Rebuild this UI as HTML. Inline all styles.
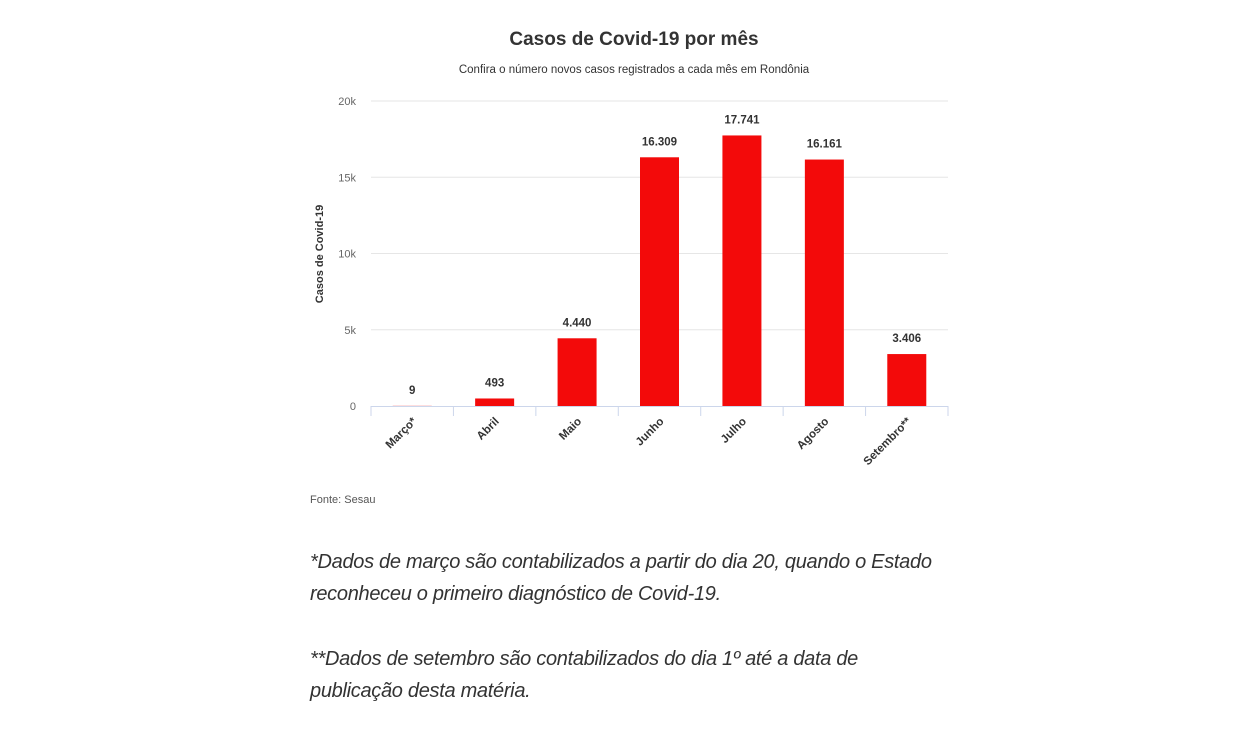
<!DOCTYPE html>
<html><head><meta charset="utf-8"><style>
body{margin:0;background:#fff;width:1239px;height:734px;overflow:hidden;font-family:"Liberation Sans",sans-serif}
.note{position:absolute;left:310px;font-style:italic;font-size:20px;color:#333;line-height:32px;letter-spacing:-0.3px}
</style></head><body>
<svg width="1239" height="520" style="position:absolute;left:0;top:0">
<text x="634" y="45" text-anchor="middle" font-size="19" font-weight="bold" fill="#333">Casos de Covid-19 por mês</text>
<text x="634" y="73" text-anchor="middle" font-size="11.5" fill="#333">Confira o número novos casos registrados a cada mês em Rondônia</text>
<text transform="translate(323,254) rotate(-90)" text-anchor="middle" font-size="11" font-weight="bold" fill="#333">Casos de Covid-19</text>
<g id="grid"></g><g id="bars"></g><g id="xaxis"></g>
<text x="310" y="503" font-size="11" fill="#555">Fonte: Sesau</text>
</svg>
<div class="note" style="top:546px">*Dados de março são contabilizados a partir do dia 20, quando o Estado<br>reconheceu o primeiro diagnóstico de Covid-19.</div>
<div class="note" style="top:643px">**Dados de setembro são contabilizados do dia 1º até a data de<br>publicação desta matéria.</div>
<script>
const categories=["Março*","Abril","Maio","Junho","Julho","Agosto","Setembro**"];
const values=[9,493,4440,16309,17741,16161,3406];
const valueLabels=["9","493","4.440","16.309","17.741","16.161","3.406"];
const yTicks=[0,5000,10000,15000,20000];
const yTickLabels=["0","5k","10k","15k","20k"];
const NS="http://www.w3.org/2000/svg";
const x0=371,x1=948,y0=406,yTop=101,yMax=20000;
const band=(x1-x0)/categories.length;
const y=v=>y0-(v/yMax)*(y0-yTop);
const xc=i=>x0+band*(i+0.5);
function mk(t,a,p){const e=document.createElementNS(NS,t);for(const k in a)e.setAttribute(k,a[k]);p.appendChild(e);return e;}
const grid=document.getElementById('grid'),bars=document.getElementById('bars'),xa=document.getElementById('xaxis');
yTicks.forEach((t,i)=>{
 if(t>0){const l=mk('line',{x1:x0,x2:x1,y1:y(t),y2:y(t),stroke:'#e6e6e6'},grid);
 
 }
 const tx=mk('text',{x:356,y:y(t)+4,'text-anchor':'end','font-size':11,fill:'#666'},grid);tx.textContent=yTickLabels[i];
 
 
});
const ax=mk('line',{x1:x0,x2:x1,y1:y0+0.5,y2:y0+0.5,stroke:'#ccd6eb'},xa);


for(let i=0;i<=categories.length;i++){const tk=mk('line',{x1:x0+band*i,x2:x0+band*i,y1:y0,y2:y0+10,stroke:'#ccd6eb'},xa);
 
 }
categories.forEach((c,i)=>{
 const bw=39,cx=xc(i);
 const r=mk('rect',{x:cx-bw/2,y:y(values[i]),width:bw,height:y0-y(values[i]),fill:'#f30a0a'},bars);
 
 
 const vl=mk('text',{x:cx,y:y(values[i])-12,'text-anchor':'middle','font-size':11.5,'font-weight':'bold',fill:'#333'},bars);vl.textContent=valueLabels[i];
 
 
 const cl=mk('text',{transform:`translate(${cx+5},${y0+16}) rotate(-45)`,'text-anchor':'end','font-size':11.5,'font-weight':'bold',fill:'#333'},xa);cl.textContent=c;
 
 
});
</script>
</body></html>
